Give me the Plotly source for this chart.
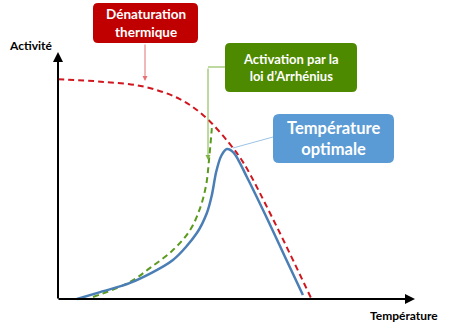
import plotly.graph_objects as go

# ---- data (temperature units, activity units) ----
denat_T = [0, 12, 24, 34, 41, 48, 52, 60, 71]
denat_A = [89, 88, 86, 81, 74, 63, 55, 33, 0]

arrh_T = [9.8, 20.2, 25.8, 32.2, 37.0, 39.8, 41.5, 42.3, 43.1]
arrh_A = [0.8, 6.9, 12.6, 19.8, 27.9, 36.8, 46.2, 56.3, 69.2]

act_T = [5.3, 11.8, 20.2, 32.2, 38.9, 41.7, 43.1, 44.3, 45.7, 47.3, 49.3, 52.9, 58.5, 63.6, 68.6]
act_A = [0, 2.8, 6.5, 15.8, 26.7, 34.8, 42.1, 51.4, 57.9, 60.7, 59.1, 49.4, 32.8, 17.0, 1.6]

W, H = 466, 331
X0, XS = 58, 3.57   # pixel of T=0, px per unit
Y0, YS = 299, 2.47  # pixel of A=0, px per unit

def dx(p):
    return (p - X0) / XS

def dy(p):
    return (Y0 - p) / YS

FONT = "Lato, 'Open Sans', sans-serif"

fig = go.Figure()
fig.add_trace(go.Scatter(x=denat_T, y=denat_A, mode="lines",
                         line=dict(color="#D0161E", width=2, dash="6px,4px", shape="spline"),
                         hoverinfo="skip"))
fig.add_trace(go.Scatter(x=arrh_T, y=arrh_A, mode="lines",
                         line=dict(color="#5A9A1E", width=2, dash="6px,4px", shape="spline"),
                         hoverinfo="skip"))
fig.add_trace(go.Scatter(x=act_T, y=act_A, mode="lines",
                         line=dict(color="#4A7EB5", width=2.5, shape="spline", smoothing=0.8),
                         hoverinfo="skip"))

def rrect(x0, y0, x1, y1, r, color):
    # rounded rectangle in pixel coords -> data coords path
    pts = (f"M {dx(x0 + r)},{dy(y0)} L {dx(x1 - r)},{dy(y0)} "
           f"Q {dx(x1)},{dy(y0)} {dx(x1)},{dy(y0 + r)} L {dx(x1)},{dy(y1 - r)} "
           f"Q {dx(x1)},{dy(y1)} {dx(x1 - r)},{dy(y1)} L {dx(x0 + r)},{dy(y1)} "
           f"Q {dx(x0)},{dy(y1)} {dx(x0)},{dy(y1 - r)} L {dx(x0)},{dy(y0 + r)} "
           f"Q {dx(x0)},{dy(y0)} {dx(x0 + r)},{dy(y0)} Z")
    return dict(type="path", path=pts, xref="x", yref="y",
                fillcolor=color, line=dict(width=0), layer="above")

shapes = [
    rrect(93, 3, 198, 43, 5, "#C00000"),
    rrect(225, 43, 357, 92, 5, "#4E8A00"),
    rrect(273, 114, 394, 163, 6, "#5B9BD5"),
    dict(type="line", xref="x", yref="y", x0=dx(225), y0=dy(67), x1=dx(208), y1=dy(67),
         line=dict(color="#7DB442", width=1)),
    dict(type="line", xref="x", yref="y", x0=dx(273), y0=dy(137), x1=dx(233), y1=dy(148),
         line=dict(color="#9DC3E6", width=1)),
]

annotations = [
    # axes arrows
    dict(x=dx(58), y=dy(52), ax=dx(58), ay=dy(300), xref="x", yref="y", axref="x", ayref="y",
         showarrow=True, arrowhead=2, arrowsize=1, arrowwidth=2, arrowcolor="black", text=""),
    dict(x=dx(415), y=dy(299), ax=dx(57), ay=dy(299), xref="x", yref="y", axref="x", ayref="y",
         showarrow=True, arrowhead=2, arrowsize=1, arrowwidth=2, arrowcolor="black", text=""),
    # connectors
    dict(x=dx(145), y=dy(81), ax=dx(145), ay=dy(43), xref="x", yref="y", axref="x", ayref="y",
         showarrow=True, arrowhead=2, arrowsize=1, arrowwidth=1, arrowcolor="#E57373", text=""),
    dict(x=dx(208), y=dy(160), ax=dx(208), ay=dy(67), xref="x", yref="y", axref="x", ayref="y",
         showarrow=True, arrowhead=2, arrowsize=1, arrowwidth=1, arrowcolor="#7DB442", text=""),
    # box texts
    dict(x=dx(145.5), y=dy(23), xref="x", yref="y", showarrow=False,
         text="<b>Dénaturation<br>thermique</b>", font=dict(family=FONT, size=13.5, color="white")),
    dict(x=dx(291), y=dy(67.5), xref="x", yref="y", showarrow=False,
         text="<b>Activation par la<br>loi d’Arrhénius</b>", font=dict(family=FONT, size=13, color="white")),
    dict(x=dx(333.5), y=dy(138.5), xref="x", yref="y", showarrow=False,
         text="<b>Température<br>optimale</b>", font=dict(family=FONT, size=16.5, color="white")),
    # axis labels
    dict(x=dx(30), y=dy(45), xref="x", yref="y", showarrow=False,
         text="<b>Activité</b>", font=dict(family=FONT, size=12, color="black")),
    dict(x=dx(404), y=dy(315), xref="x", yref="y", showarrow=False,
         text="<b>Température</b>", font=dict(family=FONT, size=12, color="black")),
]

fig.update_layout(
    width=W, height=H, autosize=False,
    margin=dict(l=0, r=0, t=0, b=0),
    paper_bgcolor="white", plot_bgcolor="white",
    showlegend=False,
    xaxis=dict(range=[dx(0), dx(W)], visible=False, fixedrange=True),
    yaxis=dict(range=[dy(H), dy(0)], visible=False, fixedrange=True),
    shapes=shapes, annotations=annotations,
)

fig.write_html("out.html")
